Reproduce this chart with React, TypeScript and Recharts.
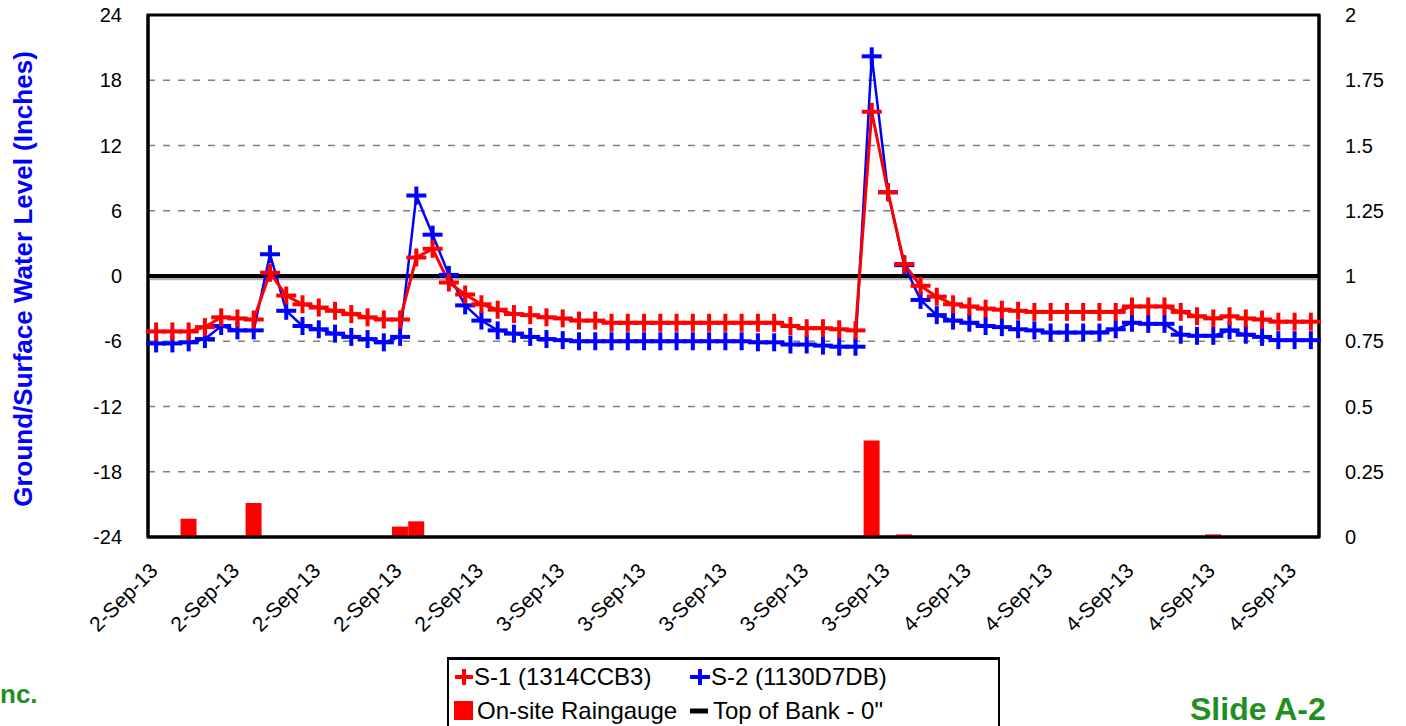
import React from 'react'
import {
  ComposedChart,
  Line,
  Bar,
  XAxis,
  YAxis,
  CartesianGrid,
  ReferenceLine,
  ReferenceArea,
} from 'recharts'

// hourly readings, 2-Sep-13 00:00 through 4-Sep-13 23:00
const days = ['2-Sep-13', '3-Sep-13', '4-Sep-13']
const hours = [
  '00:00', '01:00', '02:00', '03:00', '04:00', '05:00', '06:00', '07:00',
  '08:00', '09:00', '10:00', '11:00', '12:00', '13:00', '14:00', '15:00',
  '16:00', '17:00', '18:00', '19:00', '20:00', '21:00', '22:00', '23:00',
]

// S-1 (1314CCB3), inches
const s1 = [
  -5.1, -5.1, -5.1, -4.7, -3.8, -3.9, -4.0, 0.3, -1.8, -2.6, -2.9, -3.2,
  -3.5, -3.8, -4.0, -4.0, 1.7, 2.5, -0.6, -1.7, -2.6, -3.1, -3.5, -3.6,
  -3.8, -3.9, -4.1, -4.1, -4.3, -4.3, -4.3, -4.3, -4.3, -4.3, -4.3, -4.3,
  -4.3, -4.3, -4.3, -4.6, -4.8, -4.8, -4.9, -5.0, 15.1, 7.7, 1.1, -0.9,
  -1.9, -2.6, -2.8, -3.0, -3.1, -3.2, -3.3, -3.3, -3.3, -3.3, -3.3, -3.3,
  -2.8, -2.8, -2.8, -3.3, -3.7, -3.9, -3.7, -3.9, -4.0, -4.2, -4.2, -4.2,
]

// S-2 (1130D7DB), inches
const s2 = [
  -6.2, -6.2, -6.1, -5.8, -4.6, -5.0, -5.0, 2.0, -3.2, -4.6, -4.9, -5.3,
  -5.6, -5.8, -6.1, -5.6, 7.4, 3.8, 0.1, -2.7, -4.1, -5.0, -5.3, -5.6,
  -5.8, -5.9, -6.0, -6.0, -6.0, -6.0, -6.0, -6.0, -6.0, -6.0, -6.0, -6.0,
  -6.0, -6.1, -6.1, -6.3, -6.3, -6.4, -6.5, -6.5, 20.2, 7.7, 1.0, -2.2,
  -3.6, -4.1, -4.3, -4.6, -4.7, -4.9, -5.0, -5.2, -5.2, -5.2, -5.2, -4.9,
  -4.3, -4.4, -4.4, -5.4, -5.5, -5.5, -5.0, -5.4, -5.6, -5.9, -5.9, -5.9,
]

// On-site raingauge, inches (right axis)
const rain = [
  0, 0, 0.07, 0, 0, 0, 0.13, 0, 0, 0, 0, 0,
  0, 0, 0, 0.04, 0.06, 0, 0, 0, 0, 0, 0, 0,
  0, 0, 0, 0, 0, 0, 0, 0, 0, 0, 0, 0,
  0, 0, 0, 0, 0, 0, 0, 0, 0.37, 0, 0.01, 0,
  0, 0, 0, 0, 0, 0, 0, 0, 0, 0, 0, 0,
  0, 0, 0, 0, 0, 0.01, 0, 0, 0, 0, 0, 0,
]

const leftTicks = [-24, -18, -12, -6, 0, 6, 12, 18, 24]
const rightTicks = [0, 0.25, 0.5, 0.75, 1, 1.25, 1.5, 1.75, 2]

const data = days.flatMap((d, di) =>
  hours.map((h, hi) => {
    const i = di * 24 + hi
    return { t: `${d} ${h}`, s1: s1[i], s2: s2[i], rain: rain[i] }
  })
)

const FONT = '"Liberation Sans", Arial, sans-serif'

const crossDot = (color: string) => (props: any) => {
  const { cx, cy, index } = props
  if (cx == null || cy == null) return <g key={index} />
  return (
    <g key={index}>
      <line x1={cx - 10} x2={cx + 10} y1={cy} y2={cy} stroke={color} strokeWidth={4} />
      <line x1={cx} x2={cx} y1={cy - 9} y2={cy + 9} stroke={color} strokeWidth={4} />
    </g>
  )
}

const DateTick = (props: any) => {
  const { x, y, payload } = props
  const label = String(payload.value).split(' ')[0]
  return (
    <text
      x={x + 3}
      y={y + 27}
      transform={`rotate(-45, ${x + 3}, ${y + 27})`}
      textAnchor="end"
      fontSize={21}
      fill="#000"
      fontFamily={FONT}
    >
      {label}
    </text>
  )
}

function LegendBox() {
  const row: React.CSSProperties = { position: 'absolute', height: 33, display: 'flex', alignItems: 'center' }
  const txt: React.CSSProperties = { fontSize: 24, color: '#000', whiteSpace: 'nowrap' }
  return (
    <div
      style={{
        position: 'absolute',
        left: 447,
        top: 657,
        width: 549,
        height: 90,
        border: '2px solid #000',
        borderTopWidth: 3,
        background: '#fff',
        fontFamily: FONT,
      }}
    >
      <div style={{ ...row, left: 5, top: 0 }}>
        <svg width={20} height={20}>
          <line x1={1} x2={19} y1={10} y2={10} stroke="#ff0000" strokeWidth={4} />
          <line x1={10} x2={10} y1={2} y2={18} stroke="#ff0000" strokeWidth={4} />
        </svg>
        <span style={txt}>S-1 (1314CCB3)</span>
      </div>
      <div style={{ ...row, left: 240, top: 0 }}>
        <svg width={22} height={20}>
          <line x1={1} x2={21} y1={10} y2={10} stroke="#0000ff" strokeWidth={4} />
          <line x1={11} x2={11} y1={2} y2={18} stroke="#0000ff" strokeWidth={4} />
        </svg>
        <span style={txt}>S-2 (1130D7DB)</span>
      </div>
      <div style={{ ...row, left: 5, top: 34 }}>
        <div style={{ width: 19, height: 19, background: '#ff0000', marginRight: 4 }} />
        <span style={txt}>On-site Raingauge</span>
      </div>
      <div style={{ ...row, left: 240, top: 34 }}>
        <svg width={24} height={20}>
          <line x1={1} x2={19} y1={10} y2={10} stroke="#000" strokeWidth={5} />
        </svg>
        <span style={txt}>Top of Bank - 0"</span>
      </div>
    </div>
  )
}

export default function App() {
  return (
    <div
      style={{
        position: 'absolute',
        left: 0,
        top: 0,
        width: 1406,
        height: 726,
        overflow: 'hidden',
        background: '#fff',
        fontFamily: FONT,
      }}
    >
      <ComposedChart
        width={1406}
        height={726}
        data={data}
        margin={{ top: 15, right: 0, bottom: 89, left: 0 }}
        barCategoryGap={0}
        barGap={0}
      >
        <CartesianGrid
          yAxisId="left"
          vertical={false}
          stroke="#808080"
          strokeWidth={1.5}
          strokeDasharray="7 8"
        />
        <XAxis
          dataKey="t"
          interval={4}
          height={100}
          tickLine={false}
          axisLine={{ stroke: '#000', strokeWidth: 3 }}
          tick={<DateTick />}
        />
        <YAxis
          yAxisId="left"
          width={148}
          domain={[-24, 24]}
          ticks={leftTicks}
          tickLine={false}
          tickSize={0}
          tickMargin={26}
          axisLine={{ stroke: '#000', strokeWidth: 3 }}
          tick={{ fontSize: 20, fill: '#000', fontFamily: FONT }}
        />
        <YAxis
          yAxisId="right"
          orientation="right"
          width={87}
          domain={[0, 2]}
          ticks={rightTicks}
          tickLine={false}
          tickSize={0}
          tickMargin={26}
          axisLine={{ stroke: '#000', strokeWidth: 3 }}
          tick={{ fontSize: 20, fill: '#000', fontFamily: FONT, textAnchor: 'start' }}
        />
        <Bar yAxisId="right" dataKey="rain" fill="#ff0000" isAnimationActive={false} />
        <ReferenceLine yAxisId="left" y={-0.25} stroke="#b0b0b0" strokeWidth={3} />
        <ReferenceLine yAxisId="left" y={0} stroke="#000" strokeWidth={4} />
        <Line
          yAxisId="left"
          type="linear"
          dataKey="s2"
          stroke="#0000ff"
          strokeWidth={2.5}
          dot={crossDot('#0000ff')}
          activeDot={false}
          isAnimationActive={false}
        />
        <Line
          yAxisId="left"
          type="linear"
          dataKey="s1"
          stroke="#ff0000"
          strokeWidth={3}
          dot={crossDot('#ff0000')}
          activeDot={false}
          isAnimationActive={false}
        />
        <ReferenceArea
          yAxisId="left"
          y1={-24}
          y2={24}
          fill="none"
          stroke="#000"
          strokeWidth={3}
          ifOverflow="visible"
        />
      </ComposedChart>

      <div
        style={{
          position: 'absolute',
          left: 23,
          top: 279,
          transform: 'translate(-50%, -50%) rotate(-90deg)',
          whiteSpace: 'nowrap',
          color: '#0000ff',
          fontWeight: 'bold',
          fontSize: 26,
        }}
      >
        Ground/Surface Water Level (Inches)
      </div>

      <LegendBox />

      <div
        style={{
          position: 'absolute',
          left: 0,
          top: 679,
          color: '#1f8f1f',
          fontWeight: 'bold',
          fontSize: 26,
        }}
      >
        nc.
      </div>
      <div
        style={{
          position: 'absolute',
          left: 1190,
          top: 691,
          color: '#1f8f1f',
          fontWeight: 'bold',
          fontSize: 32,
          whiteSpace: 'nowrap',
        }}
      >
        Slide A-2
      </div>
    </div>
  )
}
